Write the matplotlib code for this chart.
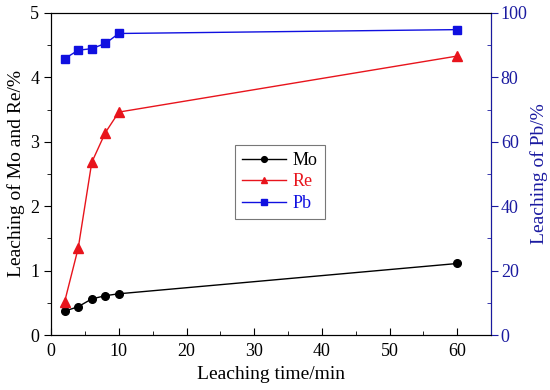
import matplotlib
matplotlib.use('Agg')
import matplotlib.pyplot as plt
from matplotlib.ticker import MultipleLocator

plt.rcParams['font.family'] = 'Liberation Serif'

# leaching data
time_min = [2, 4, 6, 8, 10, 60]
mo = [0.37, 0.44, 0.56, 0.61, 0.64, 1.11]
re = [0.52, 1.35, 2.68, 3.14, 3.46, 4.33]
pb = [85.8, 88.4, 88.9, 90.5, 93.6, 94.8]

fig = plt.figure(figsize=(5.5, 3.9), dpi=100)
ax = fig.add_axes([0.093, 0.141, 0.800, 0.826])
ax2 = ax.twinx()

l1, = ax.plot(time_min, mo, '-o', color='black', ms=5.5, lw=1, label='Mo')
l2, = ax.plot(time_min, re, '-^', color='#e8141c', ms=6.5, lw=1, label='Re')
l3, = ax2.plot(time_min, pb, '-s', color='#1010e0', ms=5.5, lw=1, label='Pb')

ax.set_xlim(0, 65)
ax.set_ylim(0, 5)
ax2.set_ylim(0, 100)

ax.xaxis.set_major_locator(MultipleLocator(10))
ax.xaxis.set_minor_locator(MultipleLocator(5))
ax.yaxis.set_major_locator(MultipleLocator(1))
ax.yaxis.set_minor_locator(MultipleLocator(0.5))
ax2.yaxis.set_major_locator(MultipleLocator(20))
ax2.yaxis.set_minor_locator(MultipleLocator(10))

ax.tick_params(axis='x', which='both', direction='in', labelsize=13, pad=6)
ax.tick_params(axis='x', which='major', length=5)
ax.tick_params(axis='x', which='minor', length=3)
ax.tick_params(axis='y', which='major', direction='out', length=5, labelsize=13)
ax.tick_params(axis='y', which='minor', direction='out', length=3)
ax2.tick_params(axis='y', which='major', direction='out', length=5, labelsize=13,
                colors='#1a1aa0', pad=2)
ax2.tick_params(axis='y', which='minor', direction='in', length=3, colors='#1a1aa0')
ax2.spines['right'].set_color('#1a1aa0')

ax.set_xlabel('Leaching time/min', fontsize=14)
ax.set_ylabel('Leaching of Mo and Re/%', fontsize=14)
ax2.set_ylabel('Leaching of Pb/%', fontsize=14, color='#1a1aa0', labelpad=2)

leg = ax.legend([l1, l2, l3], ['Mo', 'Re', 'Pb'], loc='center',
                bbox_to_anchor=(0.52, 0.475), fontsize=13, handlelength=2.4,
                fancybox=False, edgecolor='#555555', labelspacing=0.25,
                borderpad=0.4, handletextpad=0.4, markerscale=0.75)
leg.get_frame().set_linewidth(0.8)
for txt, c in zip(leg.get_texts(), ['black', '#e8141c', '#1010e0']):
    txt.set_color(c)

fig.savefig('out.png', dpi=100)
